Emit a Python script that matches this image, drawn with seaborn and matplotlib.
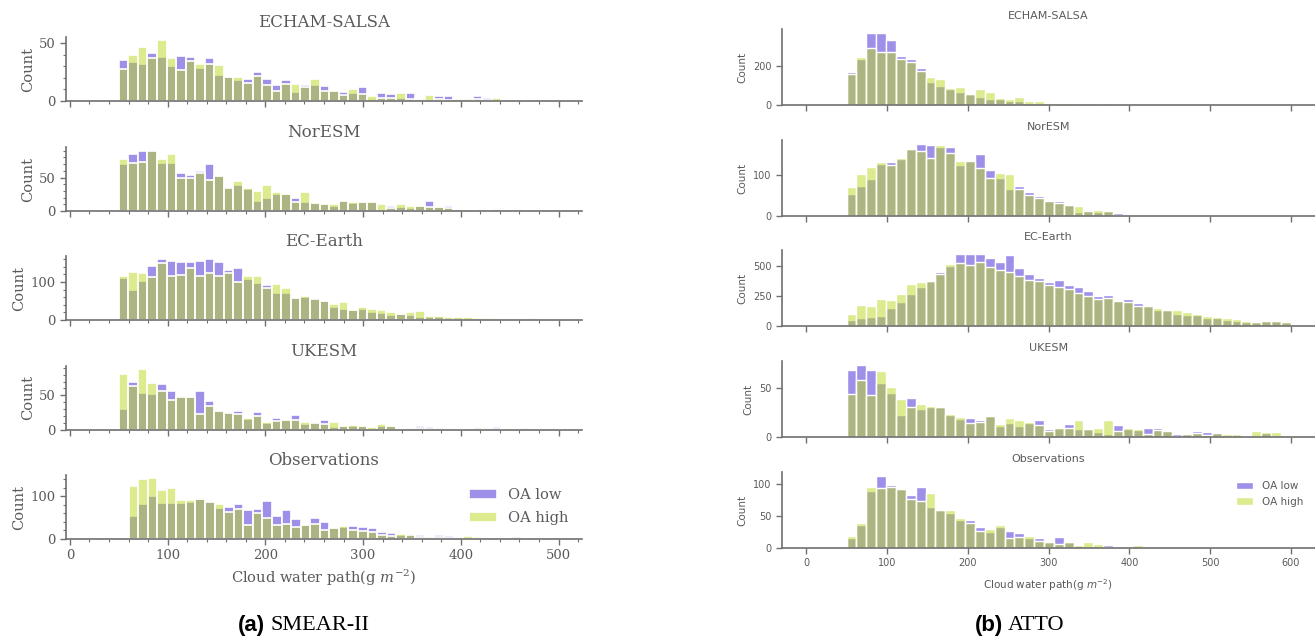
import numpy as np
import pandas as pd
import matplotlib
matplotlib.use("Agg")
import matplotlib.pyplot as plt
from matplotlib.ticker import AutoMinorLocator
import seaborn as sns

# ---------------------------------------------------------------- data
models = ["ECHAM-SALSA", "NorESM", "EC-Earth", "UKESM", "Observations"]
group_labels = ["OA low", "OA high"]
xlabel = "Cloud water path(g $m^{-2}$)"

# SMEAR-II: counts per cloud-water-path bin (models from 50, observations from 60)
smear_bin_width = 450 / 46
smear_model_start = 50
smear_obs_start = 60

smear_echam_low = [36, 34, 32, 42, 38, 30, 39, 38, 29, 37, 23, 21, 18, 19, 25, 19, 14, 18, 8, 14,
                   14, 13, 9, 8, 7, 12, 2, 7, 6, 3, 7, 2, 1, 4, 4, 2, 2, 4, 3, 1, 1, 1, 0, 0, 0, 0]
smear_echam_high = [28, 40, 47, 37, 53, 37, 27, 35, 32, 32, 31, 21, 21, 16, 22, 14, 9, 15, 15, 12,
                    19, 9, 9, 5, 10, 6, 4, 3, 3, 7, 2, 2, 5, 2, 1, 2, 2, 2, 1, 3, 0, 1, 0, 0, 1, 1]
smear_noresm_low = [70, 85, 89, 91, 71, 72, 56, 54, 60, 70, 53, 36, 39, 33, 15, 20, 26, 25, 20, 14,
                    12, 11, 8, 15, 12, 13, 13, 2, 8, 6, 4, 8, 15, 6, 7, 2, 1, 1, 0, 2, 2, 1, 0, 1, 0, 0]
smear_noresm_high = [78, 71, 73, 89, 77, 85, 49, 50, 57, 47, 52, 34, 45, 34, 30, 39, 29, 25, 14, 29,
                     12, 10, 10, 15, 14, 14, 13, 10, 5, 11, 7, 8, 6, 6, 4, 1, 1, 2, 0, 3, 1, 0, 0, 0, 0, 0]
smear_ecearth_low = [109, 78, 103, 143, 160, 156, 153, 152, 156, 159, 153, 130, 136, 108, 97, 92,
                     72, 72, 59, 61, 57, 49, 33, 29, 26, 28, 20, 19, 14, 15, 12, 8, 7, 7, 6, 4, 3,
                     3, 3, 5, 4, 4, 4, 3, 2, 3]
smear_ecearth_high = [115, 125, 124, 113, 149, 115, 119, 136, 116, 123, 116, 124, 101, 115, 115, 84,
                      94, 85, 59, 62, 55, 49, 41, 47, 27, 34, 28, 27, 22, 16, 20, 24, 11, 11, 9, 7,
                      9, 6, 6, 3, 3, 3, 3, 6, 3, 2]
smear_ukesm_low = [31, 69, 53, 52, 67, 56, 49, 47, 57, 42, 28, 26, 28, 16, 26, 10, 17, 14, 21, 8,
                   11, 14, 4, 6, 6, 6, 2, 6, 6, 1, 3, 6, 4, 3, 3, 0, 1, 5, 2, 4, 1, 0, 3, 1, 1, 3]
smear_ukesm_high = [81, 64, 88, 68, 56, 44, 47, 48, 23, 34, 28, 24, 23, 17, 20, 12, 13, 15, 14, 12,
                    10, 9, 11, 6, 7, 6, 4, 9, 6, 2, 3, 3, 2, 3, 1, 1, 0, 3, 3, 2, 1, 0, 3, 0, 1, 1]
smear_obs_low = [53, 81, 102, 84, 84, 84, 86, 94, 89, 72, 74, 81, 68, 70, 90, 53, 67, 47, 33, 49,
                 39, 25, 28, 30, 28, 26, 16, 13, 9, 12, 10, 2, 10, 8, 5, 3, 4, 1, 0, 2, 4, 0, 3, 3]
smear_obs_high = [125, 140, 143, 115, 119, 92, 92, 93, 86, 81, 63, 70, 33, 60, 49, 33, 36, 29, 33,
                  35, 20, 26, 30, 20, 19, 16, 10, 8, 12, 9, 5, 5, 4, 3, 2, 6, 4, 1, 3, 1, 0, 0, 0, 0]

# ATTO: 45 bins between 50 and 600
atto_start = 50
atto_stop = 600
atto_nbins = 45

atto_echam_low = [172, 236, 373, 373, 335, 253, 236, 191, 118, 96, 82, 67, 55, 39, 32, 31, 19, 19,
                  9, 9, 7, 5, 5, 1, 2, 0, 2]
atto_echam_high = [160, 246, 296, 272, 275, 238, 221, 174, 145, 133, 89, 94, 58, 80, 67, 36, 32, 43,
                   22, 19, 12, 8, 10, 1, 8, 0, 8]
atto_noresm_low = [54, 73, 90, 128, 133, 140, 163, 177, 173, 168, 169, 124, 138, 152, 112, 93, 65,
                   73, 59, 48, 39, 36, 27, 10, 15, 11, 12, 8]
atto_noresm_high = [71, 102, 119, 132, 125, 141, 163, 160, 142, 173, 154, 135, 134, 118, 94, 106,
                    102, 67, 52, 44, 37, 32, 27, 25, 12, 15, 13, 3]
atto_ecearth_low = [47, 64, 75, 84, 151, 198, 268, 324, 377, 455, 500, 606, 603, 606, 570, 539, 595,
                    483, 436, 405, 372, 388, 344, 330, 296, 254, 263, 221, 223, 193, 168, 134, 131,
                    103, 89, 89, 67, 67, 53, 42, 35, 30, 44, 45, 30]
atto_ecearth_high = [103, 179, 165, 226, 218, 265, 352, 372, 377, 439, 522, 531, 511, 534, 494, 466,
                     453, 416, 388, 380, 344, 324, 307, 277, 249, 226, 235, 209, 201, 165, 170, 148,
                     131, 131, 117, 103, 87, 73, 64, 59, 38, 32, 45, 43, 30]
atto_ukesm_low = [68, 74, 69, 55, 45, 23, 40, 29, 31, 31, 22, 18, 19, 17, 21, 11, 14, 11, 14, 17, 8,
                  9, 13, 8, 8, 5, 3, 12, 8, 7, 9, 9, 7, 3, 3, 6, 5, 5, 1, 0, 1, 1, 4, 1, 0]
atto_ukesm_high = [44, 58, 43, 67, 51, 39, 31, 34, 32, 31, 24, 20, 14, 15, 21, 13, 19, 17, 15, 12, 6,
                   9, 9, 17, 8, 9, 17, 6, 9, 8, 3, 7, 6, 1, 3, 4, 2, 4, 3, 3, 1, 6, 5, 5, 2]
atto_obs_low = [16, 36, 89, 113, 98, 92, 83, 95, 64, 59, 54, 43, 44, 33, 25, 33, 27, 23, 16, 16, 10,
                17, 9, 3, 2, 2, 4, 0, 1, 1, 0, 2, 0, 0, 0, 0, 2]
atto_obs_high = [18, 39, 95, 93, 96, 92, 77, 74, 86, 59, 59, 47, 39, 26, 29, 36, 15, 17, 19, 11, 9,
                 6, 9, 5, 9, 6, 1, 0, 3, 5, 0, 0, 0, 0, 0, 0, 0]

smear_yticks = [[0, 50], [0, 50], [0, 100], [0, 50], [0, 100]]
atto_yticks = [[0, 200], [0, 100], [0, 250, 500], [0, 50], [0, 50, 100]]
smear_xticks = [0, 100, 200, 300, 400, 500]
atto_xticks = [0, 100, 200, 300, 400, 500, 600]

# ---------------------------------------------------------------- style
PURPLE = "#3e23d4"
GREEN = "#bdd91e"
TEXT = "#5a5a5a"
AXIS = "#707070"

sns.set_theme(style="ticks")
plt.rcParams.update({
    "axes.edgecolor": AXIS,
    "axes.linewidth": 1.2,
    "xtick.color": AXIS,
    "ytick.color": AXIS,
    "xtick.labelcolor": TEXT,
    "ytick.labelcolor": TEXT,
    "text.color": TEXT,
    "axes.labelcolor": TEXT,
})

W, H = 1315, 643
fig = plt.figure(figsize=(W / 100, H / 100), dpi=100)


def add_axes_px(left, right, bottom, height):
    """Axes placed in pixel units measured from the top-left corner."""
    return fig.add_axes([left / W, 1 - bottom / H, (right - left) / W, height / H])


def edges_for(start, width, n):
    return start + width * np.arange(n + 1)


def draw_pair(ax, edges, low, high, lw):
    n = len(edges) - 1
    low = list(low) + [0] * (n - len(low))
    high = list(high) + [0] * (n - len(high))
    centers = 0.5 * (edges[:-1] + edges[1:])
    for vals, col, lab in ((low, PURPLE, group_labels[0]), (high, GREEN, group_labels[1])):
        frame = pd.DataFrame({"cwp": centers, "count": vals})
        sns.histplot(data=frame, x="cwp", weights="count", bins=list(edges), color=col,
                     alpha=0.5, edgecolor="white", linewidth=lw, label=lab, ax=ax)


# ---------------------------------------------------------------- (a) SMEAR-II
smear_data = [
    (smear_echam_low, smear_echam_high, smear_model_start),
    (smear_noresm_low, smear_noresm_high, smear_model_start),
    (smear_ecearth_low, smear_ecearth_high, smear_model_start),
    (smear_ukesm_low, smear_ukesm_high, smear_model_start),
    (smear_obs_low, smear_obs_high, smear_obs_start),
]
left_bottoms = [101, 211, 320, 430, 539]
serif = "DejaVu Serif"
for i, (name, (lo, hi, start), yt) in enumerate(zip(models, smear_data, smear_yticks)):
    ax = add_axes_px(66, 582, left_bottoms[i], 64)
    edges = edges_for(start, smear_bin_width, len(lo))
    draw_pair(ax, edges, lo, hi, 1.2)
    ax.set_xlim(-4, 524)
    ax.set_xticks(smear_xticks)
    ax.xaxis.set_minor_locator(AutoMinorLocator(5))
    ax.set_yticks(yt)
    ax.yaxis.set_minor_locator(AutoMinorLocator(5))
    ax.tick_params(which="major", length=4, width=1, labelsize=9.5, labelfontfamily=serif)
    ax.tick_params(which="minor", length=2.2, width=0.8)
    sns.despine(ax=ax)
    ax.set_title(name, fontsize=12, family=serif, color=TEXT, pad=7)
    ax.set_ylabel("Count", fontsize=10.5, family=serif, labelpad=3)
    if i < 4:
        ax.tick_params(axis="x", which="both", labelbottom=False)
        ax.set_xlabel("")
    else:
        ax.set_xlabel(xlabel, fontsize=10.5, family=serif, math_fontfamily="dejavuserif",
                      labelpad=4)
        ax.legend(frameon=False, loc="upper right", bbox_to_anchor=(1.0, 1.0),
                  prop={"family": serif, "size": 10.5}, handlelength=1.9, labelspacing=0.6)

fig.text(265 / W, 1 - 625 / H, "(a)", fontsize=16, fontweight="bold", family="Liberation Sans",
         color="black", ha="right", va="center")
fig.text(270 / W, 1 - 625 / H, "SMEAR-II", fontsize=16, family="Liberation Serif",
         color="black", ha="left", va="center")

# ---------------------------------------------------------------- (b) ATTO
atto_data = [
    (atto_echam_low, atto_echam_high),
    (atto_noresm_low, atto_noresm_high),
    (atto_ecearth_low, atto_ecearth_high),
    (atto_ukesm_low, atto_ukesm_high),
    (atto_obs_low, atto_obs_high),
]
right_bottoms = [105, 216, 326, 437, 548]
sans = "DejaVu Sans"
atto_edges = np.linspace(atto_start, atto_stop, atto_nbins + 1)
for i, (name, (lo, hi), yt) in enumerate(zip(models, atto_data, atto_yticks)):
    ax = add_axes_px(782, 1315, right_bottoms[i], 76)
    draw_pair(ax, atto_edges, lo, hi, 1.0)
    ax.set_xlim(-30, 630)
    ax.set_xticks(atto_xticks)
    ax.set_yticks(yt)
    ax.tick_params(which="major", length=4, width=1, labelsize=7, labelfontfamily=sans)
    sns.despine(ax=ax)
    ax.set_title(name, fontsize=8, family=sans, color=TEXT, pad=7.5)
    ax.set_ylabel("Count", fontsize=7.5, family=sans, labelpad=4)
    if i < 4:
        ax.tick_params(axis="x", labelbottom=False)
        ax.set_xlabel("")
    else:
        ax.set_xlabel(xlabel, fontsize=7.5, family=sans, math_fontfamily="dejavusans",
                      labelpad=6)
        ax.legend(frameon=False, loc="upper right", bbox_to_anchor=(0.995, 1.0),
                  prop={"family": sans, "size": 7.5}, handlelength=1.7, labelspacing=0.5)

fig.text(1003 / W, 1 - 625 / H, "(b)", fontsize=16, fontweight="bold", family="Liberation Sans",
         color="black", ha="right", va="center")
fig.text(1008 / W, 1 - 625 / H, "ATTO", fontsize=16, family="Liberation Serif",
         color="black", ha="left", va="center")

fig.savefig("out.png", dpi=100, facecolor="white")
